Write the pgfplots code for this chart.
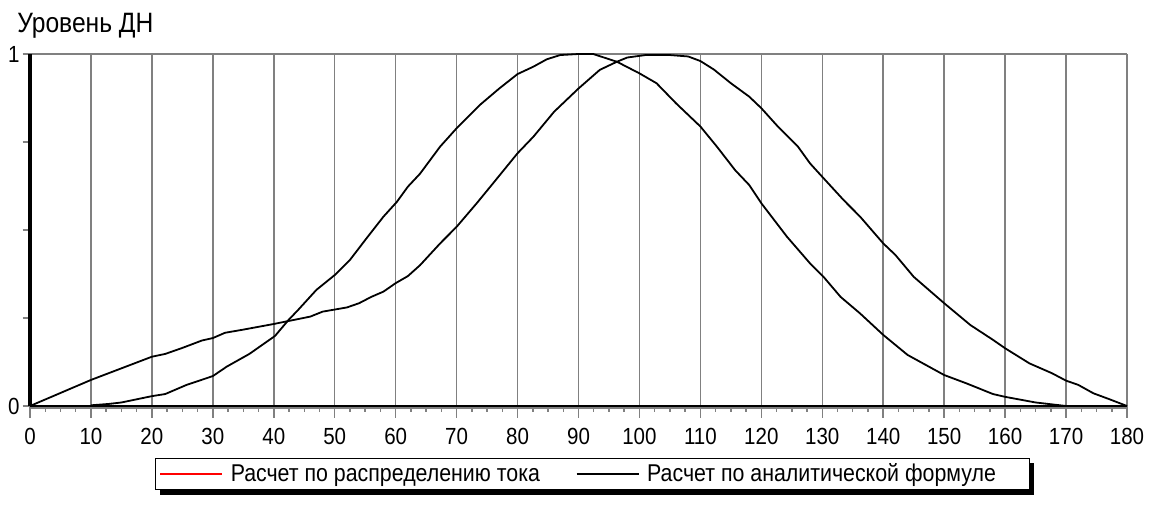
\documentclass[border=0pt]{standalone}
\usepackage{pgfplots}
\pgfplotsset{compat=1.18}
\usepackage{fontspec}
\setmainfont[FakeStretch=0.88]{Liberation Sans}
\definecolor{gridgray}{RGB}{128,128,128}
\begin{document}
\begin{tikzpicture}
\begin{axis}[name=ax, at={(0,0)}, anchor=south west,
  scale only axis, width=822.75pt, height=264pt,
  xmin=0, xmax=180, ymin=0, ymax=1, clip=false,
  xtick={0,10,...,180}, minor x tick num=3,
  ytick={0,0.25,0.5,0.75,1}, yticklabels={0,,,,1},
  xtick pos=bottom, ytick pos=left, tick align=outside,
  xtick style={gridgray, line width=1.1pt, /pgfplots/major tick length=9pt, /pgfplots/minor tick length=4.5pt},
  ytick style={gridgray, line width=1.1pt, /pgfplots/major tick length=5.5pt},
  xmajorgrids, major grid style={gridgray, line width=1.1pt},
  axis line style={draw=none},
  tick label style={font=\fontsize{17.5}{20}\selectfont},
  xticklabel style={yshift=-9pt},
  /pgf/number format/assume math mode=true,
  legend style={name=leg, at={(0.1139,-0.1477)}, anchor=north west, draw=black, line width=0.9pt,
    font=\fontsize{18.2}{21}\selectfont, legend columns=2,
    /tikz/every even column/.append style={column sep=25pt},
    /tikz/every odd column/.append style={column sep=4pt},
    inner xsep=3pt, inner ysep=2pt},
  legend image code/.code={\draw[#1, line width=0.9pt] (0pt,0pt) -- (46.5pt,0pt);},
]
\draw[gridgray, line width=1.5pt] (axis cs:0,1) -- (axis cs:180,1);
\draw[gridgray, line width=1.8pt] (axis cs:180,0) -- (axis cs:180,1);
\draw[gridgray, line width=1.3pt] ([yshift=-1.4pt]axis cs:0,0) -- ([yshift=-1.4pt]axis cs:180,0);
\draw[black, line width=1.3pt] (axis cs:0,0) -- (axis cs:180,0);
\draw[black, line width=3pt] (axis cs:0,0) -- (axis cs:0,1);
\addlegendimage{red, line width=0.9pt}
\addlegendentry{Расчет по распределению тока}
\addplot[black, line width=1.35pt] coordinates {
(0,0) (5,0.037) (10,0.074) (15,0.107) (20,0.14) (22.2,0.148) (25,0.165) (28.2,0.186)
(30,0.193) (32,0.208) (35,0.217) (40,0.233) (44,0.247) (46,0.254) (48,0.268) (52,0.28)
(54,0.292) (56,0.31) (58,0.325) (60,0.349) (62,0.369) (64,0.40) (67.3,0.462) (70,0.509)
(73.3,0.576) (76,0.633) (80,0.718) (82.6,0.765) (86,0.836) (90,0.902) (93.5,0.955)
(96.3,0.978) (98,0.99) (101,0.997) (105,0.997) (108,0.993) (110,0.98) (112.2,0.956)
(115,0.917) (118,0.879) (120,0.846) (122.5,0.798) (126,0.737) (128,0.689) (130,0.651)
(133.5,0.585) (136.2,0.538) (140,0.462) (142,0.429) (145,0.367) (150,0.292) (154.3,0.23)
(158,0.188) (160,0.164) (164,0.121) (167.7,0.093) (170,0.072) (172,0.06) (174.5,0.036)
(177,0.02) (180,0)
};
\addlegendentry{Расчет по аналитической формуле\kern20pt}
\addplot[black, line width=1.35pt, forget plot] coordinates {
(10,0.002) (13,0.006) (15,0.01) (20,0.028) (22.2,0.034) (25.7,0.06) (30,0.085)
(32.3,0.112) (36,0.148) (40.2,0.199) (42.4,0.244) (44,0.273) (47,0.33) (50,0.372)
(52.5,0.415) (55.2,0.476) (58,0.538) (60.2,0.58) (62,0.623) (64,0.66) (67.3,0.737)
(70,0.789) (73.8,0.855) (77,0.902) (80,0.943) (82.6,0.964) (84.8,0.985) (87,0.997)
(90,1.0) (92.4,1.0) (96.3,0.978) (100,0.945) (102.8,0.917) (106,0.86) (110,0.794)
(112.7,0.737) (115.7,0.67) (118,0.628) (120,0.576) (124.2,0.481) (128,0.405)
(130.2,0.367) (133,0.31) (136.2,0.263) (140,0.202) (144,0.145) (150,0.088)
(153.7,0.064) (158,0.034) (160,0.026) (165,0.01) (168.5,0.003) (170,0)
};
\end{axis}
\fill[black] ([shift={(3.5pt,-3.5pt)}]leg.south west) rectangle ([xshift=3.5pt]leg.south east);
\fill[black] ([yshift=-3.5pt]leg.north east) rectangle ([shift={(3.5pt,-3.5pt)}]leg.south east);
\node[anchor=base west, font=\fontsize{21}{24}\selectfont, inner sep=0pt] at ([shift={(-9.75pt,279.75pt)}]ax.south west) {Уровень ДН};
\pgfresetboundingbox
\path[use as bounding box] ([shift={(-22.5pt,-75pt)}]ax.south west) rectangle ++(867.75pt,379.5pt);
\end{tikzpicture}
\end{document}
